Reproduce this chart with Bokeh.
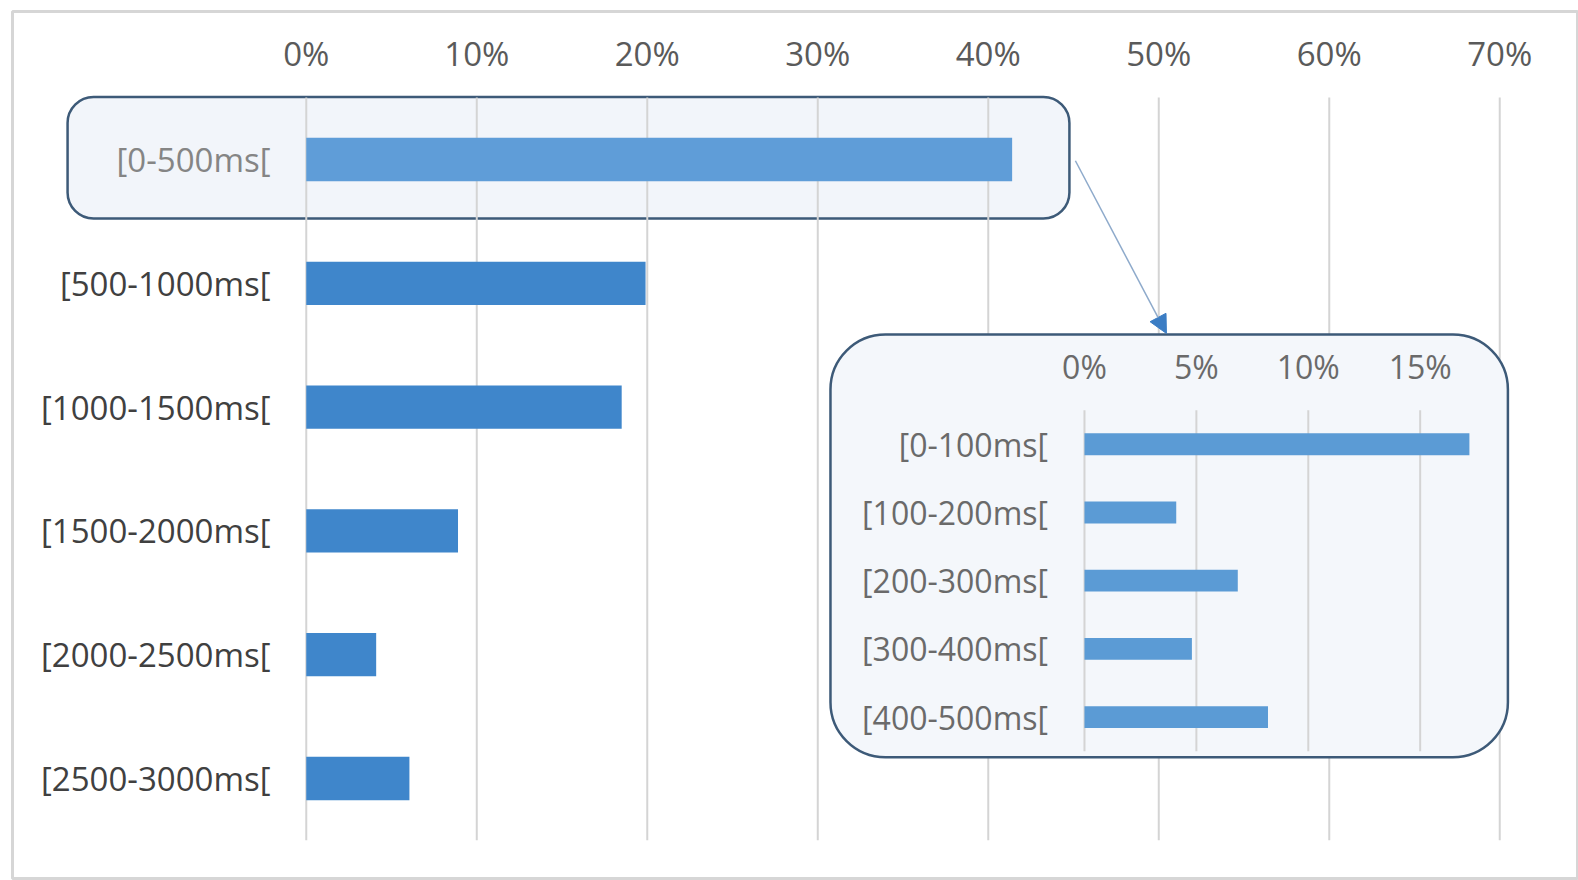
from bokeh.plotting import figure
from bokeh.models import Range1d, ColumnDataSource, Arrow, NormalHead
from bokeh.core.properties import value
from bokeh.embed import file_html
from bokeh.resources import INLINE

# ---------------- data ----------------
main_categories = ["[0-500ms[", "[500-1000ms[", "[1000-1500ms[", "[1500-2000ms[",
                   "[2000-2500ms[", "[2500-3000ms["]
main_values = [41.4, 19.9, 18.5, 8.9, 4.1, 6.05]          # percent
main_ticks = [0, 10, 20, 30, 40, 50, 60, 70]
main_tick_labels = ["0%", "10%", "20%", "30%", "40%", "50%", "60%", "70%"]

inset_categories = ["[0-100ms[", "[100-200ms[", "[200-300ms[", "[300-400ms[", "[400-500ms["]
inset_values = [17.2, 4.1, 6.85, 4.8, 8.2]                 # percent
inset_ticks = [0, 5, 10, 15]
inset_tick_labels = ["0%", "5%", "10%", "15%"]

FONT = value("Open Sans")

# ---------------- figure ----------------
p = figure(width=1578, height=880, output_backend="svg", toolbar_location=None,
           x_range=Range1d(-17.23, 74.56), y_range=Range1d(5.808, -1.1955),
           min_border_left=12, min_border_top=11, min_border_right=1, min_border_bottom=2,
           background_fill_color="white", border_fill_color="white")
p.axis.visible = False
p.xaxis.visible = False
p.yaxis.visible = False
p.grid.visible = False
p.outline_line_color = "#d6d6d6"
p.outline_line_width = 3

p.extra_x_ranges = {"inset": Range1d(-47.90, 22.03)}
p.extra_y_ranges = {"inset": Range1d(6.367, -6.346)}

n_main = len(main_categories)
n_inset = len(inset_categories)
main_rows = list(range(n_main))
inset_rows = list(range(n_inset))

# highlight box around the first main category
p.quad(left=[-14.0], right=[44.76], top=[main_rows[0] - 0.505], bottom=[main_rows[0] + 0.477],
       fill_color="#f2f5fa", line_color="#3d5a78", line_width=2.5, border_radius=26)

# main gridlines
p.segment(x0=main_ticks, x1=main_ticks, y0=[main_rows[0] - 0.5] * len(main_ticks),
          y1=[main_rows[-1] + 0.5] * len(main_ticks), line_color="#d4d4d4", line_width=2)

# main bars
main_colors = ["#5f9dd8"] + ["#3f86cb"] * (n_main - 1)
src_main = ColumnDataSource(dict(y=main_rows, right=main_values, color=main_colors,
                                 cat=main_categories))
p.hbar(y="y", left=0, right="right", height=0.35, fill_color="color", line_color=None,
       source=src_main)

# main tick labels
p.text(x=main_ticks, y=[main_rows[0] - 0.856] * len(main_ticks), text=main_tick_labels,
       text_align="center", text_baseline="middle", text_font=FONT,
       text_font_size=value("33px"), text_color="#5a5a5a")

# main category labels
label_colors = ["#858585"] + ["#404040"] * (n_main - 1)
p.text(x=[-2.1] * n_main, y=main_rows, text=main_categories, text_align="right",
       text_baseline="middle", text_font=FONT, text_font_size=value("33px"),
       text_color=label_colors)

# ---------------- inset ----------------
p.quad(left=[-11.35], right=[18.92], top=[inset_rows[0] - 1.61], bottom=[inset_rows[-1] + 0.59],
       fill_color="#f4f7fb", line_color="#3d5a78", line_width=2.5, border_radius=55,
       x_range_name="inset", y_range_name="inset")

p.segment(x0=inset_ticks, x1=inset_ticks, y0=[inset_rows[0] - 0.5] * len(inset_ticks),
          y1=[inset_rows[-1] + 0.5] * len(inset_ticks), line_color="#d4d4d4", line_width=2,
          x_range_name="inset", y_range_name="inset")

p.hbar(y=inset_rows, left=0, right=inset_values, height=0.32, fill_color="#5b9bd5",
       line_color=None, x_range_name="inset", y_range_name="inset")

p.text(x=inset_ticks, y=[inset_rows[0] - 1.14] * len(inset_ticks), text=inset_tick_labels,
       text_align="center", text_baseline="middle", text_font=FONT,
       text_font_size=value("32px"), text_color="#6a6a6a",
       x_range_name="inset", y_range_name="inset")

p.text(x=[-1.63] * n_inset, y=inset_rows, text=inset_categories, text_align="right",
       text_baseline="middle", text_font=FONT, text_font_size=value("32px"),
       text_color="#6a6a6a", x_range_name="inset", y_range_name="inset")

# connector arrow from the highlighted bar to the inset
p.add_layout(Arrow(x_start=45.11, y_start=0.01, x_end=50.45, y_end=1.405,
                   line_color="#8eaacb", line_width=1.5,
                   end=NormalHead(size=18, fill_color="#3b7dc4", line_color="#3b7dc4")))

open("out.html", "w").write(file_html(p, INLINE))
